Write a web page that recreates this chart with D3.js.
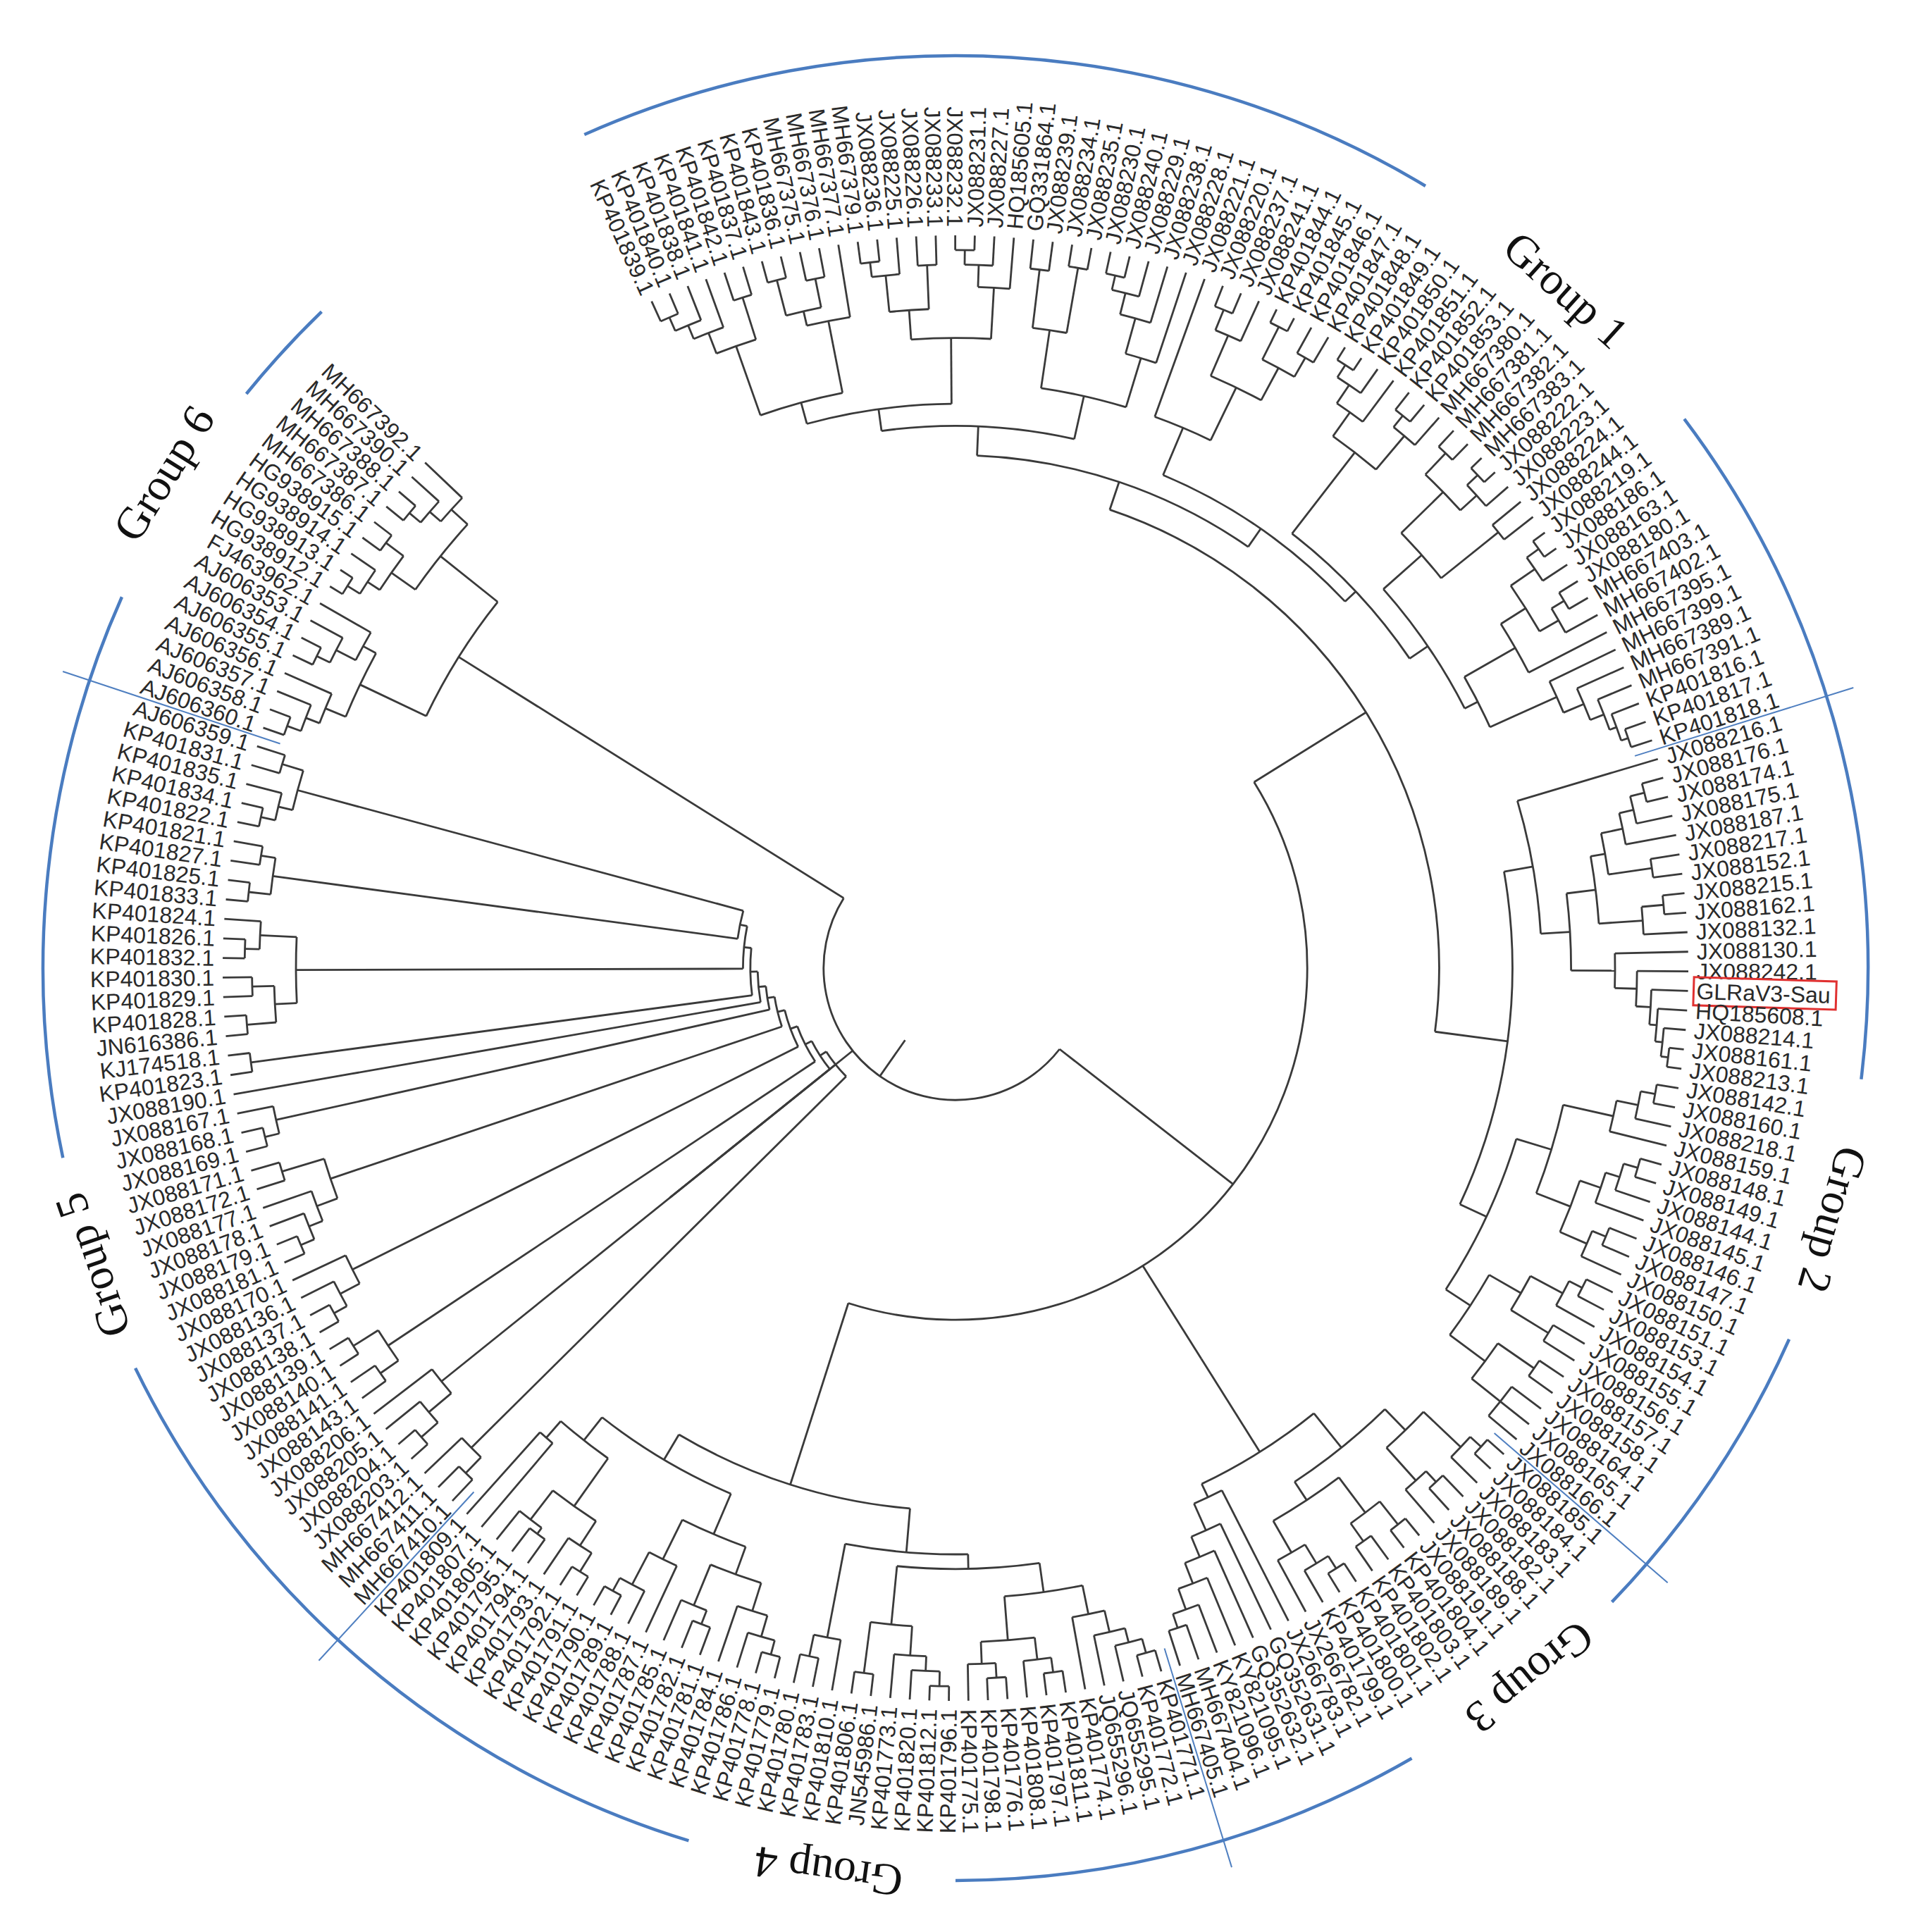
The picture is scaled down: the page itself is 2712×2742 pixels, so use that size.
<!DOCTYPE html>
<html><head><meta charset="utf-8">
<script src="https://cdn.jsdelivr.net/npm/d3@7"></script>
<style>body{margin:0;background:#fff}</style>
</head><body>
<svg id="c" width="2712" height="2742"></svg>
<script>
// ---------- DATA ----------
const groupNames = ["Group 1","Group 2","Group 3","Group 4","Group 5","Group 6"];
const g1Names = ["KP401839","KP401840","KP401838","KP401841","KP401842","KP401837",
 "KP401843","KP401836","MH667375","MH667376","MH667377",
 "MH667379","JX088236","JX088225","JX088226","JX088233","JX088232","JX088231","JX088227","HQ185605",
 "GQ331864","JX088239","JX088234","JX088235",
 "JX088230","JX088240","JX088229","JX088238","JX088228",
 "JX088221",
 "JX088220","JX088237","JX088241","KP401844","KP401845","KP401846","KP401847",
 "KP401848","KP401849","KP401850","KP401851","KP401852","KP401853","MH667380",
 "MH667381","MH667382","MH667383","JX088222","JX088223","JX088224","JX088244",
 "JX088219","JX088186","JX088163","JX088180","MH667403","MH667402","MH667395",
 "MH667399","MH667389","MH667391","KP401816","KP401817","KP401818"];
const g2Names = ["JX088216","JX088176","JX088174","JX088175","JX088187","JX088217","JX088152","JX088215",
 "JX088162","JX088132","JX088130","JX088242","GLRaV3-Sau","HQ185608","JX088214","JX088161","JX088213",
 "JX088142","JX088160","JX088218","JX088159","JX088148","JX088149","JX088144","JX088145","JX088146",
 "JX088147","JX088150","JX088151","JX088153","JX088154","JX088155","JX088156","JX088157","JX088158",
 "JX088164","JX088165","JX088166"];
const g3Names = ["JX088185","JX088184","JX088183","JX088182","JX088188","JX088189","JX088191","KP401804",
 "KP401803","KP401802","KP401801","KP401800","KP401799","JX266782","JX266783","GQ352631","GQ352632",
 "KY821095","KY821096","MH667404","MH667405"];
const g4Names = ["KP401771","KP401772","JQ655295","JQ655296","KP401774","KP401811","KP401797","KP401808",
 "KP401776","KP401798","KP401775","KP401796","KP401812","KP401820","KP401773","JN545986","KP401806",
 "KP401810","KP401783","KP401780","KP401779","KP401778","KP401786","KP401784","KP401781","KP401782",
 "KP401785","KP401787","KP401788","KP401789","KP401790","KP401791","KP401792","KP401793","KP401794",
 "KP401795","KP401805","KP401807","KP401809"];
const g5Names = ["MH667410","MH667411","MH667412","JX088203","JX088204","JX088205","JX088206","JX088143",
 "JX088141","JX088140","JX088139","JX088138","JX088137","JX088136","JX088170","JX088181","JX088179",
 "JX088178","JX088177","JX088172","JX088171","JX088169","JX088168","JX088167","JX088190","KP401823",
 "KJ174518","JN616386","KP401828","KP401829","KP401830","KP401832","KP401826","KP401824","KP401833",
 "KP401825","KP401827","KP401821","KP401822","KP401834","KP401835","KP401831","AJ606359"];
const g6Names = ["AJ606360","AJ606358","AJ606357","AJ606356","AJ606355","AJ606354","AJ606353","FJ463962",
 "HG938912","HG938913","HG938914","HG938915","MH667386","MH667387","MH667388","MH667390","MH667392"];

// topology: '*' = leaf (taken in order), number after ')' = node height (fraction of tip radius)
const G1 = `((((${"((((*,*).97,*).95,*).93,(*,*).96).9"},${"(((*,*).97,(*,*).96).92,*).9"}).8,${"((((*,*).97,*).95,(*,*).96).9,(((*,*).98,*).96,*).93).86"}).77,(${"((*,*).96,(*,*).97).88"},${"((((*,*).97,*).95,*).92,*).87"}).8).74,((*,${"(((*,*).97,*).94,((*,*).98,(*,*).96).93).88"}).8,(${"((((*,*).98,*).96,*).93,((*,*).97,*).95).89"},(${"(((*,*).97,((*,*).98,*).96).93,(*,*).95).85"},(${"((((*,*).98,*).96,((*,*).97,*).95).92,*).88"},${"(*,(*,(*,(*,(*,*).97).96).95).93).9"}).8).78).75).73).7`;
const G2 = `((*,(${"(((((*,*).97,*).95,*).93,(*,*).96).9,((*,*).97,*).94).88"},${"(*,(*,(*,(*,(*,(*,*).98).97).96).95).93).9"}).84).8,((${"(((*,*).97,*).95,*).92"},${"((((*,*).97,*).95,*).93,((*,*).96,*).94).9"}).85,(${"(((*,*).96,*).94,(*,*).95).89"},${"((*,*).96,(*,*,*).95).9"}).84).8).76`;
const G3 = `((((((*,*).97,*).95,((*,*).96,*).94).88,(((*,*).97,(*,*).96).93,(((*,*).97,*).95,*).92).87).84,(*,(*,(*,(*,(*,(*,*).95).93).9).87).84).8).78`;
const G4 = `((((${"((((*,*).97,*).95,*).93,*).9"},${"(((*,*).97,*).95,((*,*).97,*).95).92"}).86,${"((((*,*).98,*).96,*).94,(*,*).97).9"}).82,${"(*,(*,*).96).93"}).8,((${"((((*,*).97,*).95,*).92,((*,*).96,*).94).88"},${"(*,(*,(*,*).97).95).9"}).84,(${"(((*,*).97,*).94,((*,*).96,*).95).9"},(*,*).85).82).78).74`;
const G5 = `(${"((*,*).96,*).93"},(${"(((*,*).97,*).94,*).9"},(${"((*,*).96,(*,*).97).93"},(${"(((*,*).97,*).95,*).92"},(${"((((*,*).97,*).95,*).93,(*,*).96).9"},(${"((*,*).97,*).95"},(*,(${"(*,*).97"},(${"(((*,*).97,(*,*).96).93,((*,*).97,*).95).9"},(${"((*,*).97,(*,*).96).94"},${"(((*,*).97,*).95,(*,*).96).93"}).3).29).28).27).26).25).24).23).22).21)`;
const G6 = `(((((*,*).97,*).95,*).93,(((*,*).97,*).95,*).92).9,((((*,*).98,*).96,(*,*).97).94,(((*,*).97,*).95,*).93).9).8`;
const TREE = `((((${G1},${G2}).66,${G3}).63,${G4}).48,(${G5},${G6}).18).12`;

// label-ring group annotation
const groupLabelAngle = [42,106,141,188,251,302];
const groupLabelRadius = [1295,1295,1295,1295,1295,1325];
const arcSegments = [[-24,31],[53,97],[114,134],[150,180],[197,244],[258,294],[309,316]];

// ---------- LAYOUT ----------
const W=2712,H=2742,cx=1356,cy=1374,tipR=1040,labR=1052,arcR=1295;
const a0=-24.5, step=1.53;
const allNames=[...g1Names,...g2Names,...g3Names,...g4Names,...g5Names,...g6Names];
const groupSizes=[g1Names,g2Names,g3Names,g4Names,g5Names,g6Names].map(a=>a.length);

function parse(s){let i=0,leaf=0;
  function node(){ if(s[i]==='('){i++;const ch=[];while(true){ch.push(node());if(s[i]===','){i++;continue;} if(s[i]===')'){i++;break;}}
      const m=/^[0-9.]+/.exec(s.slice(i)); let h=0.5; if(m){h=parseFloat(m[0]);i+=m[0].length;}
      return {h,children:ch};}
    if(s[i]==='*'){i++;const n={leaf:true,idx:leaf,name:allNames[leaf]||""};leaf++;return n;}
    throw new Error("bad at "+i);}
  const r=node(); r.count=leaf; return r;}
const treeData=parse(TREE);
const root=d3.hierarchy(treeData);
const ang=d3.scaleLinear().domain([0,1]).range([a0,a0+step]);
const rad=d3.scaleLinear().domain([0,1]).range([0,tipR]);
root.eachAfter(n=>{ if(n.data.leaf){n.a=ang(n.data.idx);n.r=rad(1);} else {
   const as=n.children.map(c=>c.a);n.a=(d3.min(as)+d3.max(as))/2;n.r=rad(n.data.h);} });
const P=(a,r)=>[cx+r*Math.sin(a*Math.PI/180), cy-r*Math.cos(a*Math.PI/180)];

const svg=d3.select("#c");
svg.append("rect").attr("width",W).attr("height",H).attr("fill","#fff");
const gT=svg.append("g").attr("fill","none").attr("stroke","#3a3a3a").attr("stroke-width",2.8);
root.each(n=>{ if(n.parent){ const p=d3.path();const s=P(n.a,n.parent.r),e=P(n.a,n.r);p.moveTo(...s);p.lineTo(...e);gT.append("path").attr("d",p.toString());}
  if(n.children){ const as=n.children.map(c=>c.a);const mn=d3.min(as),mx=d3.max(as);
    const p=d3.path();const toR=x=>(x-90)*Math.PI/180;p.arc(cx,cy,n.r,toR(mn),toR(mx),false);
    gT.append("path").attr("d",p.toString());}});

// labels
const gL=svg.append("g").attr("font-family","Liberation Sans, Arial, sans-serif").attr("font-size",32).attr("fill","#2a2a2a");
root.leaves().forEach(n=>{ const a=n.a; const left=((a%360)+360)%360>180;
  const g=gL.append("g").attr("transform",`translate(${cx},${cy}) rotate(${a-90}) translate(${labR},0)${left?" rotate(180)":""}`);
  const t=g.append("text").attr("dy","0.35em").attr("text-anchor",left?"end":"start").text(n.data.name==="GLRaV3-Sau"?n.data.name:n.data.name+".1");
  if(n.data.name==="GLRaV3-Sau"){const b=t.node().getBBox();g.append("rect").attr("x",b.x-4).attr("y",b.y-2).attr("width",b.width+12).attr("height",b.height+4).attr("fill","none").attr("stroke","#e03030").attr("stroke-width",3);}
});

// group separators
let cum=0;const sepAngles=[];
for(let k=0;k<groupSizes.length-1;k++){cum+=groupSizes[k];sepAngles.push(ang(cum-0.5));}
const gS=svg.append("g").attr("stroke","#4f7fc0").attr("stroke-width",2);
sepAngles.forEach(a=>{const s=P(a,1010),e=P(a,1335);gS.append("line").attr("x1",s[0]).attr("y1",s[1]).attr("x2",e[0]).attr("y2",e[1]);});
// blue arcs
const gA=svg.append("g").attr("fill","none").attr("stroke","#4a7cc0").attr("stroke-width",4.5);
arcSegments.forEach(([s,e])=>{const p=d3.path();p.arc(cx,cy,arcR,(s-90)*Math.PI/180,(e-90)*Math.PI/180,false);gA.append("path").attr("d",p.toString());});
// group names
groupNames.forEach((g,i)=>{const a=groupLabelAngle[i];const [x,y]=P(a,groupLabelRadius[i]);
  svg.append("text").attr("transform",`translate(${x},${y}) rotate(${a})`).attr("text-anchor","middle").attr("dominant-baseline","central")
   .attr("font-family","Liberation Serif, Times New Roman, serif").attr("font-size",64).attr("fill","#111").text(g);});
</script>
</body></html>
